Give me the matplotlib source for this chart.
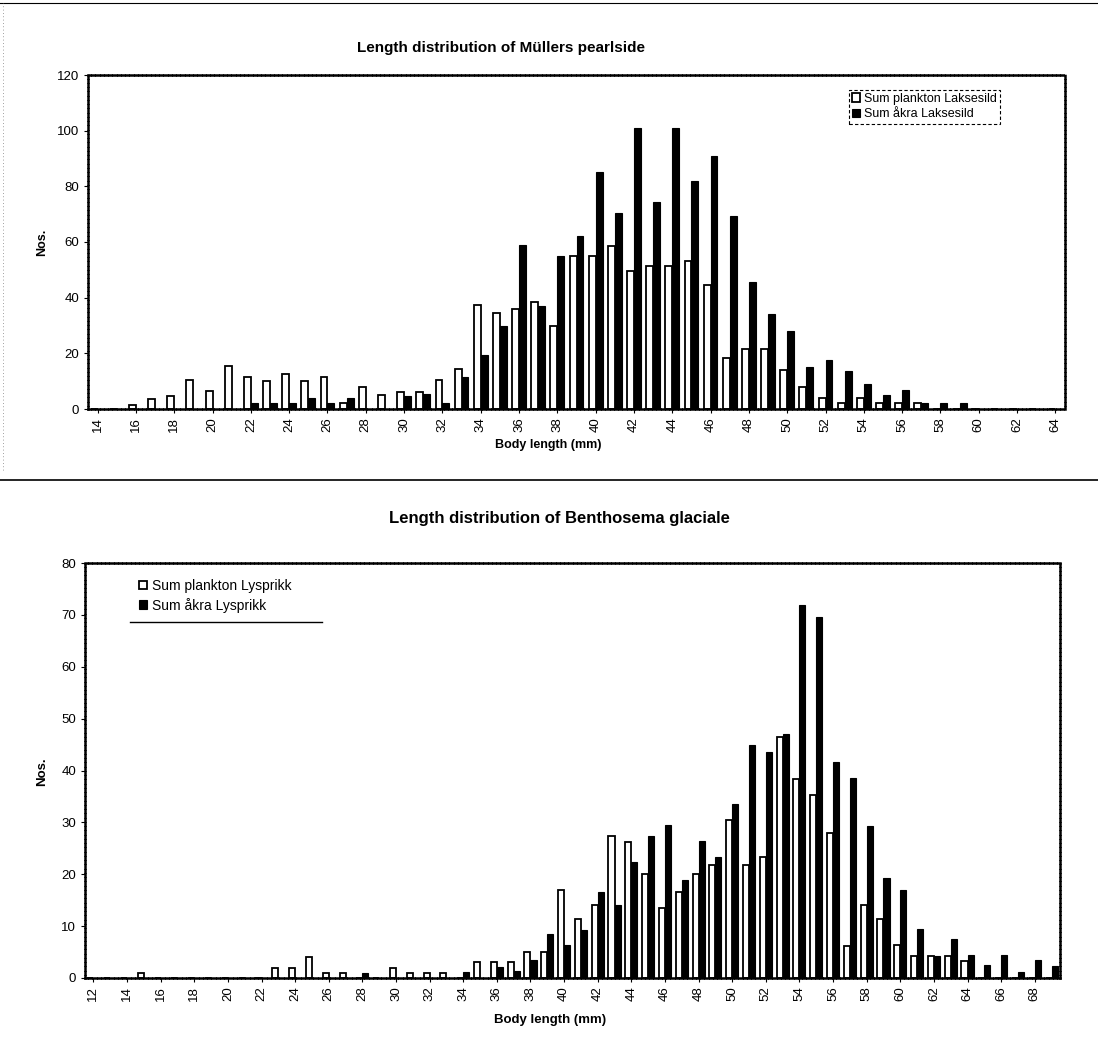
import numpy as np
import matplotlib
matplotlib.use("Agg")
import matplotlib.pyplot as plt
from matplotlib.lines import Line2D

plt.rcParams['font.family'] = ['Liberation Sans', 'DejaVu Sans']

# --- Müllers pearlside (Laksesild), body length 14..64 mm
laks_lengths = list(range(14, 65))
plankton_laks = [0, 0, 1.5, 3.5, 4.5, 10.5, 6.5, 15.5, 11.5, 10, 12.5, 10, 11.5, 2, 8, 5,
                 6, 6, 10.5, 14.5, 37.5, 34.5, 36, 38.5, 30, 55, 55, 58.5, 49.5, 51.5, 51.5,
                 53, 44.5, 18.5, 21.5, 21.5, 14, 8, 4, 2, 4, 2, 2, 2, 0, 0, 0, 0, 0, 0, 0]
akra_laks = [0, 0, 0, 0, 0, 0, 0, 0, 2, 2, 2, 4, 2, 4, 0, 0,
             4.5, 5.5, 2, 11.5, 19.5, 30, 59, 37, 55, 62, 85, 70.5, 101, 74.5, 101,
             82, 91, 69.5, 45.5, 34, 28, 15, 17.5, 13.5, 9, 5, 7, 2, 2, 2, 0, 0, 0, 0, 0]

# --- Benthosema glaciale (Lysprikk), body length 12..69 mm
lys_lengths = list(range(12, 70))
plankton_lys = [0, 0, 0, 1, 0, 0, 0, 0, 0, 0, 0, 2, 2, 4, 1, 1, 0, 0, 2, 1, 1, 1, 0,
                3, 3, 3, 5, 5, 17, 11.3, 14, 27.3, 26.2, 20, 13.5, 16.5, 20, 21.7, 30.4,
                21.8, 23.3, 46.5, 38.3, 35.2, 28, 6.2, 14, 11.3, 6.3, 4.3, 4.3, 4.3, 3.3,
                0, 0, 0, 0, 0]
akra_lys = [0, 0, 0, 0, 0, 0, 0, 0, 0, 0, 0, 0, 0, 0, 0, 0, 1, 0, 0, 0, 0, 0, 1.2,
            0, 2.2, 1.4, 3.5, 8.5, 6.4, 9.3, 16.5, 14, 22.3, 27.4, 29.5, 18.8, 26.4, 23.4,
            33.6, 45, 43.5, 47, 72, 69.5, 41.7, 38.6, 29.3, 19.2, 17, 9.5, 4.3, 7.5, 4.4,
            2.5, 4.4, 1.2, 3.5, 2.3]

W, H = 1098, 1051
fig = plt.figure(figsize=(W / 100, H / 100), dpi=100)
fig.patch.set_facecolor('white')


def axes_px(left, top, right, bottom):
    return fig.add_axes([left / W, 1 - bottom / H, (right - left) / W, (bottom - top) / H])


def draw(ax, lengths, plank, akra, labels, ymax, ystep):
    x = np.arange(len(lengths))
    w = 0.36
    ax.bar(x - w / 2, plank, w, facecolor='white', edgecolor='black', linewidth=1.3,
           label=labels[0], zorder=2)
    ax.bar(x + w / 2, akra, w, facecolor='black', edgecolor='black', linewidth=0.8,
           label=labels[1], zorder=3)
    ax.set_xlim(-0.5, len(lengths) - 0.5)
    ax.set_ylim(0, ymax)
    ax.set_yticks(np.arange(0, ymax + 1, ystep))
    ax.set_xticks(x[::2])
    ax.set_xticklabels([str(v) for v in lengths[::2]], rotation=90)
    ax.tick_params(axis='both', labelsize=9.5, length=3, width=0.8, direction='out')
    ax.tick_params(axis='x', pad=3)
    for s in ax.spines.values():
        s.set_linestyle((0, (0.8, 0.9)))
        s.set_linewidth(1.8)
        s.set_zorder(4)


# top chart
ax1 = axes_px(88, 75, 1065, 409)
draw(ax1, laks_lengths, plankton_laks, akra_laks,
     ['Sum plankton Laksesild', 'Sum åkra Laksesild'], 120, 20)
leg1 = ax1.legend(loc='upper right', bbox_to_anchor=(0.94, 0.975), fontsize=9,
                  handlelength=0.7, handleheight=0.7, handletextpad=0.3, borderpad=0.25,
                  labelspacing=0.3, fancybox=False, framealpha=1)
leg1.get_frame().set_edgecolor('black')
leg1.get_frame().set_linewidth(0.8)
leg1.get_frame().set_linestyle((0, (3, 2)))

fig.text(501 / W, 1 - 48 / H, 'Length distribution of Müllers pearlside', ha='center',
         va='center', fontsize=11, fontweight='bold')
fig.text(548 / W, 1 - 445 / H, 'Body length (mm)', ha='center', va='center',
         fontsize=9, fontweight='bold')
fig.text(42 / W, 1 - 242 / H, 'Nos.', ha='center', va='center', rotation=90,
         fontsize=9, fontweight='bold')

# bottom chart
ax2 = axes_px(85, 563, 1060, 978)
draw(ax2, lys_lengths, plankton_lys, akra_lys,
     ['Sum plankton Lysprikk', 'Sum åkra Lysprikk'], 80, 10)
ax2.legend(loc='upper left', bbox_to_anchor=(0.045, 0.985), fontsize=10,
           handlelength=0.6, handleheight=0.6, handletextpad=0.4, borderpad=0.2,
           labelspacing=0.35, frameon=False)
ax2.add_line(Line2D([0.046, 0.243], [0.858, 0.858], transform=ax2.transAxes,
                    color='black', linewidth=1.0))

fig.text(559 / W, 1 - 519 / H, 'Length distribution of Benthosema glaciale', ha='center',
         va='center', fontsize=12, fontweight='bold')
fig.text(550 / W, 1 - 1020 / H, 'Body length (mm)', ha='center', va='center',
         fontsize=9.5, fontweight='bold')
fig.text(42 / W, 1 - 772 / H, 'Nos.', ha='center', va='center', rotation=90,
         fontsize=9.5, fontweight='bold')

# page separators from the scanned sheet
fig.add_artist(Line2D([0, 1], [1 - 3 / H, 1 - 3 / H], color='black', linewidth=0.8))
fig.add_artist(Line2D([0, 1], [1 - 480 / H, 1 - 480 / H], color='black', linewidth=1.2))
fig.add_artist(Line2D([3 / W, 3 / W], [1 - 470 / H, 1 - 3 / H], color='gray',
                      linewidth=0.6, linestyle=(0, (1, 3))))

fig.savefig('out.png', dpi=100)
